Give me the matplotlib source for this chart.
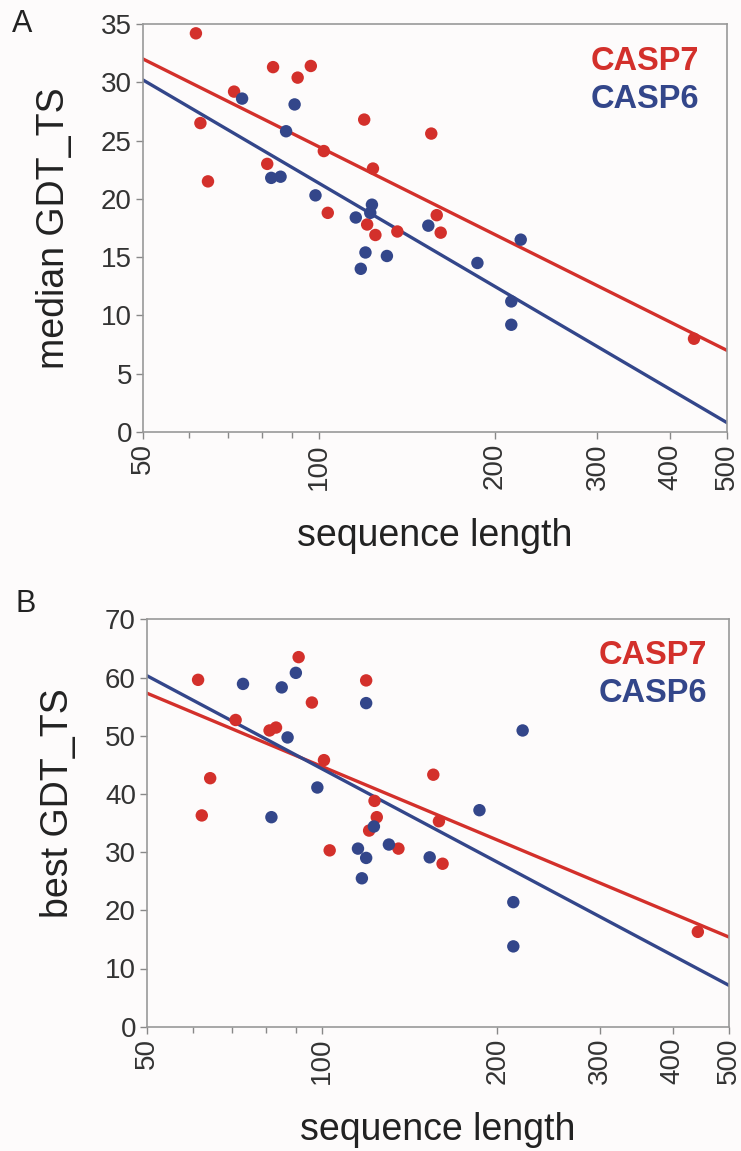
import numpy as np
import matplotlib
matplotlib.use('Agg')
import matplotlib.pyplot as plt
from matplotlib.ticker import FixedLocator, NullFormatter

plt.rcParams['font.family'] = ['Liberation Sans', 'DejaVu Sans']

# Panel A: median GDT_TS vs sequence length
a7_len = [61.6, 62.7, 64.6, 71.6, 83.5, 81.6, 92.0, 96.9, 102.0, 103.6,
          119.6, 123.8, 121.0, 125.0, 136.3, 155.8, 159.2, 161.7, 439]
a7_val = [34.2, 26.5, 21.5, 29.2, 31.3, 23.0, 30.4, 31.4, 24.1, 18.8,
          26.8, 22.6, 17.8, 16.9, 17.2, 25.6, 18.6, 17.1, 8.0]
a6_len = [73.9, 82.9, 86.0, 90.9, 87.9, 98.7, 115.7, 123.3, 122.5,
          120.2, 118.0, 130.8, 154.0, 186.9, 221.7, 213.6, 213.6]
a6_val = [28.6, 21.8, 21.9, 28.1, 25.8, 20.3, 18.4, 19.5, 18.8,
          15.4, 14.0, 15.1, 17.7, 14.5, 16.5, 11.2, 9.2]

# Panel B: best GDT_TS vs sequence length
b7_len = [61.2, 62.1, 64.2, 71.0, 81.2, 83.3, 91.1, 96.0, 100.7, 103.0,
          119.0, 123.0, 124.1, 120.4, 135.2, 155.2, 158.7, 161.0, 442]
b7_val = [59.6, 36.3, 42.7, 52.7, 50.9, 51.4, 63.5, 55.7, 45.8, 30.3,
          59.5, 38.8, 36.0, 33.7, 30.6, 43.3, 35.3, 28.0, 16.3]
b6_len = [73.1, 85.2, 90.1, 87.2, 81.8, 98.1, 119.0, 122.7, 130.2, 115.2,
          119.0, 117.0, 153.0, 186.3, 221.0, 213.0, 213.0]
b6_val = [58.9, 58.3, 60.8, 49.7, 36.0, 41.1, 55.6, 34.4, 31.3, 30.6,
          29.0, 25.5, 29.1, 37.2, 50.9, 21.4, 13.8]

# fitted lines, values at length 50 and 500
fit_x = [50, 500]
a7_fit = [32.0, 7.0]
a6_fit = [30.2, 0.8]
b7_fit = [57.3, 15.4]
b6_fit = [60.3, 7.1]

red = '#d3302b'
blue = '#33468a'
bg = '#fdfbfb'

fig = plt.figure(figsize=(7.41, 11.51), dpi=100, facecolor=bg)

def draw_panel(rect, l7, v7, l6, v6, f7, f6, ymax, ystep, ylabel, ylab_y, leg_x, leg_y):
  ax = fig.add_axes(rect, facecolor=bg)
  ax.set_xscale('log')
  ax.set_xlim(50, 500)
  ax.set_ylim(0, ymax)
  ax.plot(fit_x, f7, color=red, lw=2.4, zorder=2)
  ax.plot(fit_x, f6, color=blue, lw=2.4, zorder=2)
  ax.scatter(l7, v7, s=80, color=red, edgecolors='none', zorder=3)
  ax.scatter(l6, v6, s=80, color=blue, edgecolors='none', zorder=3)

  ax.xaxis.set_major_locator(FixedLocator([50, 100, 200, 300, 400, 500]))
  ax.xaxis.set_minor_locator(FixedLocator([60, 70, 80, 90]))
  ax.xaxis.set_minor_formatter(NullFormatter())
  ax.set_xticklabels(['50', '100', '200', '300', '400', '500'], rotation=90)
  ax.set_yticks(np.arange(0, ymax + 1, ystep))

  ax.tick_params(axis='both', which='both', direction='out', colors='#888888',
                 labelcolor='#333333', labelsize=20, width=1)
  ax.tick_params(axis='both', which='major', length=5, pad=3)
  ax.tick_params(axis='x', which='minor', length=4)
  for sp in ax.spines.values():
    sp.set_color('#999999')
    sp.set_linewidth(1.2)

  ax.set_ylabel(ylabel, fontsize=27, color='#222222')
  ax.yaxis.set_label_coords(-0.122, ylab_y)
  ax.set_xlabel('sequence length', fontsize=27, color='#222222', va='top')
  ax.xaxis.set_label_coords(0.5, -0.21)

  ax.text(leg_x, leg_y[0], 'CASP7', color=red, fontsize=23.5, fontweight='bold',
          ha='right', va='center', transform=ax.transAxes)
  ax.text(leg_x, leg_y[1], 'CASP6', color=blue, fontsize=23.5, fontweight='bold',
          ha='right', va='center', transform=ax.transAxes)
  return ax

draw_panel([143/741, 1 - 432/1151, 584/741, 408/1151],
           a7_len, a7_val, a6_len, a6_val, a7_fit, a6_fit, 35, 5,
           'median GDT_TS', 0.5, 0.952, (0.907, 0.814))
draw_panel([147/741, 1 - 1026.7/1151, 582/741, 407.4/1151],
           b7_len, b7_val, b6_len, b6_val, b7_fit, b6_fit, 70, 10,
           'best GDT_TS', 0.55, 0.962, (0.912, 0.819))

fig.text(12/741, 1 - 32/1151, 'A', fontsize=22, color='#222222', ha='left', va='baseline')
fig.text(16/741, 1 - 612/1151, 'B', fontsize=22, color='#222222', ha='left', va='baseline')

fig.savefig('out.png', dpi=100, facecolor=bg)
